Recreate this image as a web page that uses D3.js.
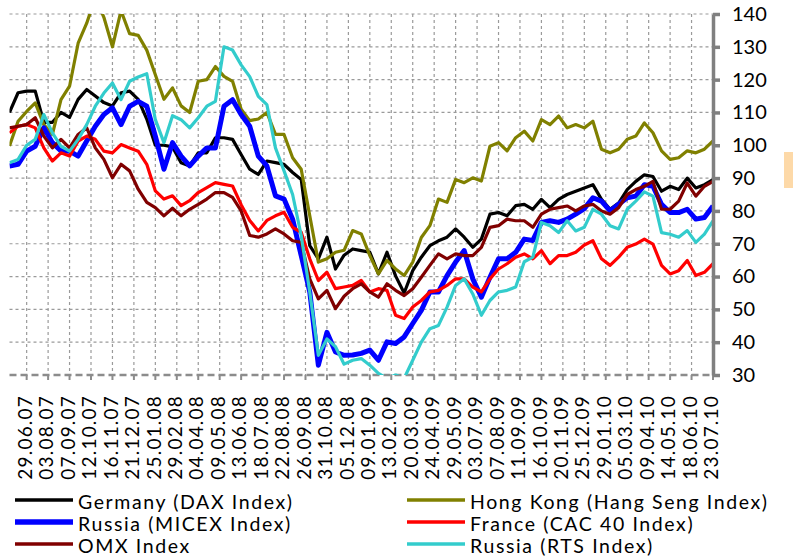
<!DOCTYPE html>
<html>
<head>
<meta charset="utf-8"/>
<title>Stock indices 2007-2010</title>
<script src="https://d3js.org/d3.v7.min.js"></script>
<style>
    body { margin: 0; background: #fff; }
    svg { display: block; font-family: Lato, "Liberation Sans", sans-serif; }
</style>
</head>
<body>
<svg id="chart" width="793" height="558"></svg>
<script>
// fortnightly readings, 01.06.07 .. 23.07.10
var startDate = new Date(2007, 5, 1), endDate = new Date(2010, 6, 23);
var dates = d3.timeDay.range(startDate, d3.timeDay.offset(endDate, 1), 14);

var tickLabels = ["29.06.07","03.08.07","07.09.07","12.10.07","16.11.07","21.12.07","25.01.08","29.02.08",
    "04.04.08","09.05.08","13.06.08","18.07.08","22.08.08","26.09.08","31.10.08","05.12.08","09.01.09",
    "13.02.09","20.03.09","24.04.09","29.05.09","03.07.09","07.08.09","11.09.09","16.10.09","20.11.09",
    "25.12.09","29.01.10","05.03.10","09.04.10","14.05.10","18.06.10","23.07.10"];

var seriesNames = ["Germany (DAX Index)", "Hong Kong (Hang Seng Index)", "Russia (MICEX Index)",
    "France (CAC 40 Index)", "OMX Index", "Russia (RTS Index)"];

var germany = [110,116,116.5,116.5,107,107,110,108.5,114,117,115,113,112,116,116.5,114,108,100,100,99.5,
    94.7,93.7,97.7,97.7,102.3,102.3,101.8,97.2,92.7,91.1,95.2,94.7,94.2,91.7,89.6,69.4,65.4,72,62.3,66.5,
    68.4,67.9,67.4,60.8,67.4,60.2,55,61.8,65.9,69.4,70.9,72,74.5,72,68.9,71.4,79,79.5,78.5,81.6,82,
    80.5,83.5,81,83.5,85,86,87,88,83.5,80.5,82.4,86.5,89,91,90.5,86,87.5,86.5,90,87,88,89.5];
var hongKong = [99.8,107.3,110.3,112.9,106.3,103.3,113.9,118,131.1,137.2,145,139,130,141,134,133.5,129,121.5,114,117.5,
    112,110,119.5,120,124,121,119.5,111,107.5,108,110,103.3,103.3,96.2,92.7,78.5,64.4,65.4,67.4,68,
    74,73,66.4,60.8,64.9,62.3,60.3,64.4,71.9,75.5,83.6,82.6,89.6,88.6,90.1,89.1,99.7,100.8,98.3,102.3,104.3,
    101.3,107.8,106.3,108.9,105.3,106.3,105.3,107.3,98.8,97.7,98.8,101.8,102.8,106.8,103.8,98.3,95.7,96.2,98.3,97.7,98.8,101.3];
var micex = [93.7,94.2,98.2,99.7,105.3,100.8,98.3,98.2,96.7,101.3,105.8,109.4,111.4,106.3,111.9,113.4,111.9,102.8,92.7,100.8,
    96.7,93.7,96.7,99.2,99.2,111.9,113.9,109.4,105.8,96.7,93.7,84.6,83.6,77.5,66.4,55.3,33,43,37,36,
    36.1,36.6,37.6,34.5,40.1,39.6,41.6,45.7,49.7,55.3,55.3,60.3,64.4,67.9,59.3,53.7,59.8,65.4,65.4,67.4,71.4,
    71,76.5,77,76.5,77.5,79,80.7,84,83,80,82,84,84.5,88,87.5,82,79.5,79.5,80.5,77.5,78,81.5];
var france = [103.8,105.8,106.3,105.3,99.2,95.2,97.7,96.7,101.3,102.8,101.8,98.2,97.7,100.2,99.2,98.2,94.2,86.1,83.6,84.6,
    81.6,83.1,85.6,87.1,88.6,88.1,87.6,81.9,77.1,73.9,77.1,78.5,79.6,75,73.5,65.4,58.8,61.3,56.3,56.8,
    57.3,58.8,55.3,56.3,55.8,48.2,47.2,50.7,52.7,55.3,55.8,57.3,59.3,59.3,56.8,55.3,59.3,62.3,63.9,65.9,66.9,
    65.4,67.9,63.9,66.4,66.4,67.4,69.6,70.9,65.4,63.4,65.9,68.9,69.9,71.4,69.9,63.4,60.8,61.8,64.9,60.3,61.3,63.9];
var omx = [105.3,105.8,106.3,108.4,102.8,99.2,101.8,99.2,103.3,105.3,99.2,95.7,90.1,94.2,92.2,86.6,82.6,81,78.5,80.8,
    78.5,80.5,82,83.6,85.6,85.6,84.1,80,72.5,72,73,74.5,73,70.9,70.4,59.3,53.2,55.8,50.2,54,
    56.3,57.8,55.3,53.7,57.8,55.8,54.2,56.3,59.8,63.4,66.9,65.4,66.9,66.4,66.4,68.9,75,75.5,77.5,77,77,
    75,79,80.5,81,81.5,80,81.5,82,80,79,81,85,86.5,87.5,89,80.5,80.5,83,88.5,84.5,87.5,89];
var rts = [94.7,95.7,100,101.8,109.4,103.8,99.7,98.2,101.8,106.3,111.9,115.9,119,113.9,119.5,120.8,121.8,107.8,100.8,109,
    107.8,105.3,108.4,111.9,113.4,130,129,124.5,120.9,114.9,112.4,99.2,92.2,85,72.5,55.3,36,41,38.6,33.3,
    34.5,35,33,30.5,29,30,29,34.5,40,44.1,45.1,50.7,57.3,59.3,54.7,48.2,52.7,55.3,55.8,56.8,64.5,
    65.9,76.5,75.5,73.4,77,73.9,75,80.5,79,75.5,74.5,80.5,83,85.8,84.5,73.4,72.9,72,74,70.4,72.9,77];

var yTicks = [30, 40, 50, 60, 70, 80, 90, 100, 110, 120, 130, 140];

var seriesValues = [germany, hongKong, micex, france, omx, rts];
var seriesColors = ["#000000", "#808000", "#0000ff", "#ff0000", "#800000", "#33cccc"];
var seriesWidths = [3.2, 3.2, 5, 3.2, 3.2, 3.2];

var svg = d3.select("#chart");
var plotLeft = 9.5, plotRight = 713, plotTop = 14, plotBottom = 375;
var parse = d3.timeParse("%d.%m.%y");

var x = d3.scaleTime().domain([startDate, endDate]).range([plotLeft, plotRight]);
var y = d3.scaleLinear().domain([30, 140]).range([plotBottom, plotTop]);

// grid
svg.append("g").selectAll("line")
    .data(yTicks.slice(1))
    .enter().append("line")
    .attr("x1", plotLeft).attr("x2", plotRight)
    .attr("y1", function (d) { return y(d) }).attr("y2", function (d) { return y(d) })
    .attr("stroke", "#9a9a9a").attr("stroke-width", 1.2).attr("stroke-dasharray", "3,3");

svg.append("g").selectAll("line")
    .data(tickLabels.slice(0, -1))
    .enter().append("line")
    .attr("x1", function (d) { return x(parse(d)) }).attr("x2", function (d) { return x(parse(d)) })
    .attr("y1", plotTop).attr("y2", plotBottom)
    .attr("stroke", "#9a9a9a").attr("stroke-width", 1.2).attr("stroke-dasharray", "3,3");

// bottom category axis
svg.append("line")
    .attr("x1", plotLeft).attr("x2", plotRight).attr("y1", plotBottom).attr("y2", plotBottom)
    .attr("stroke", "#8c8c8c").attr("stroke-width", 2.5).attr("stroke-dasharray", "7,4");
svg.append("g").selectAll("line")
    .data(tickLabels)
    .enter().append("line")
    .attr("x1", function (d) { return x(parse(d)) }).attr("x2", function (d) { return x(parse(d)) })
    .attr("y1", plotBottom).attr("y2", plotBottom + 5)
    .attr("stroke", "#8c8c8c").attr("stroke-width", 2);

svg.append("g").selectAll("text")
    .data(tickLabels)
    .enter().append("text")
    .attr("transform", function (d) { return "translate(" + (x(parse(d)) - 1.5) + "," + 395 + ") rotate(-90)" })
    .attr("text-anchor", "end")
    .attr("dy", "0.35em")
    .attr("font-size", 19)
    .attr("letter-spacing", 1.2)
    .text(function (d) { return d });

// lines
svg.append("clipPath").attr("id", "plot")
    .append("rect").attr("x", plotLeft).attr("y", plotTop)
    .attr("width", plotRight - plotLeft).attr("height", plotBottom - plotTop);

var line = d3.line()
    .x(function (d, i) { return x(dates[i]) })
    .y(function (d) { return y(d) });

svg.append("g").attr("clip-path", "url(#plot)")
    .selectAll("path")
    .data(seriesValues)
    .enter().append("path")
    .attr("fill", "none")
    .attr("stroke", function (d, i) { return seriesColors[i] })
    .attr("stroke-width", function (d, i) { return seriesWidths[i] })
    .attr("stroke-linejoin", "round")
    .attr("d", line);

// right value axis
var yAxis = svg.append("g")
    .attr("transform", "translate(" + plotRight + ",0)")
    .call(d3.axisRight(y).tickValues(yTicks).tickSize(7).tickSizeOuter(0).tickPadding(12));
yAxis.select(".domain").attr("stroke", "#808080").attr("stroke-width", 3.5);
yAxis.selectAll(".tick line").attr("stroke", "#808080").attr("stroke-width", 3.5);
yAxis.selectAll(".tick text").attr("fill", "#000").attr("font-size", 20)
    .attr("font-family", "Lato, 'Liberation Sans', sans-serif");

// legend, two columns, filled row by row
var legend = svg.append("g").selectAll("g")
    .data(seriesNames)
    .enter().append("g")
    .attr("transform", function (d, i) {
        return "translate(" + (i % 2 ? 407 : 15) + "," + [500, 522, 544][Math.floor(i / 2)] + ")"
    });
legend.append("line")
    .attr("x1", 0).attr("x2", 58)
    .attr("stroke", function (d, i) { return seriesColors[i] })
    .attr("stroke-width", function (d, i) { return seriesWidths[i] + 0.5 });
legend.append("text")
    .attr("x", 63).attr("y", 2)
    .attr("dy", "0.35em")
    .attr("font-size", 19.5)
    .attr("letter-spacing", 1.6)
    .text(function (d) { return d });

// small orange box at the right edge
svg.append("rect").attr("x", 784).attr("y", 152).attr("width", 12).attr("height", 36).attr("fill", "#fdd9a8");
</script>
</body>
</html>
